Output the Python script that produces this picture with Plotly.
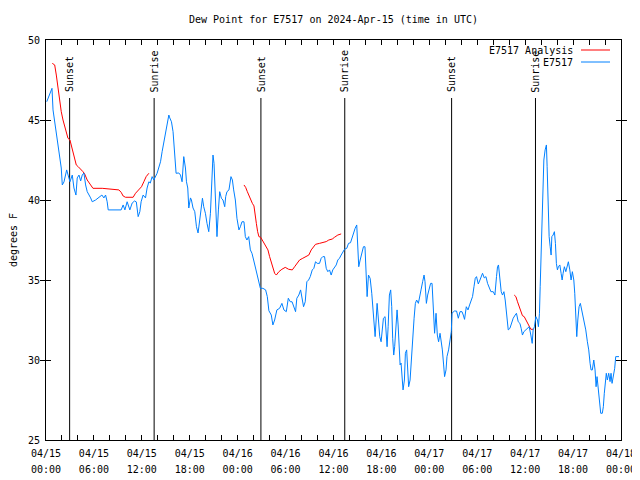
import pandas as pd
import plotly.graph_objects as go

BASE = pd.Timestamp("2024-04-15 00:00")

# E7517 observations: hours since 2024-04-15 00:00 UTC, dew point (F)
obs_hours = [0.09,0.75,0.88,1.13,1.41,1.71,1.91,2.04,2.25,2.59,2.75,3.0,3.29,3.5,3.75,3.91,4.13,4.34,4.54,4.75,
 4.96,5.16,5.59,5.79,6.21,6.63,7.0,7.25,7.46,7.66,7.79,9.41,9.66,9.88,10.16,10.5,10.79,11.09,11.31,11.54,
 11.75,11.91,12.16,12.46,12.66,12.88,13.06,13.29,13.5,13.91,14.13,14.34,14.54,14.75,14.96,15.16,15.38,15.5,15.71,15.91,
 16.13,16.29,16.63,16.84,17.04,17.25,17.46,17.59,17.75,17.88,18.09,18.21,18.41,18.63,18.84,19.04,19.25,19.46,19.59,19.75,
 19.96,20.16,20.38,20.59,20.79,20.91,21.04,21.21,21.41,21.59,21.75,21.96,22.16,22.38,22.5,22.66,22.91,23.16,23.34,23.5,
 23.71,23.91,24.16,24.34,24.54,24.79,24.96,25.16,25.38,25.59,25.79,26.0,26.21,26.41,26.63,26.84,27.16,27.5,27.71,27.91,
 28.21,28.41,28.63,28.91,29.25,29.54,29.79,30.09,30.34,30.59,30.81,31.04,31.25,31.41,31.66,31.88,32.04,32.25,32.46,32.66,
 32.88,33.09,33.34,33.54,33.75,33.96,34.25,34.46,34.66,34.88,35.09,35.29,35.5,35.71,35.91,36.13,36.34,36.54,36.75,36.96,
 37.16,37.38,37.66,37.88,38.13,38.34,38.5,38.71,38.91,39.04,39.16,39.34,39.54,39.75,39.94,40.09,40.21,40.38,40.59,40.79,
 40.91,41.09,41.21,41.34,41.46,41.63,41.79,41.96,42.09,42.25,42.46,42.59,42.71,42.84,43.0,43.16,43.29,43.41,43.54,43.66,
 43.84,43.96,44.09,44.21,44.34,44.46,44.59,44.71,44.88,45.0,45.16,45.29,45.41,45.59,45.75,45.91,46.09,46.25,46.41,46.63,
 46.79,46.96,47.16,47.34,47.46,47.63,47.79,48.0,48.16,48.34,48.5,48.66,48.84,49.0,49.16,49.34,49.46,49.63,49.79,49.91,
 50.09,50.21,50.41,50.59,50.75,50.84,51.13,51.41,51.63,51.84,52.09,52.25,52.41,52.63,52.84,53.04,53.21,53.41,53.59,53.75,
 53.91,54.13,54.34,54.66,54.88,55.09,55.29,55.5,55.71,56.0,56.21,56.41,56.54,56.66,56.84,57.0,57.16,57.34,57.5,57.66,
 57.88,58.09,58.29,58.5,58.75,58.91,59.13,59.34,59.5,59.66,59.84,60.09,60.29,60.5,60.71,60.88,61.0,61.16,61.34,61.54,
 61.66,61.79,61.88,62.0,62.09,62.21,62.34,62.5,62.66,62.75,62.88,63.0,63.13,63.25,63.34,63.5,63.66,63.79,63.91,64.04,
 64.16,64.34,64.5,64.63,64.75,64.91,65.09,65.25,65.41,65.59,65.75,65.91,66.09,66.21,66.34,66.46,66.59,66.75,66.91,67.09,
 67.25,67.41,67.59,67.79,67.96,68.13,68.25,68.41,68.59,68.75,68.88,69.0,69.13,69.25,69.38,69.46,69.66,69.79,69.91,70.04,
 70.16,70.29,70.46,70.63,70.75,70.88,71.04,71.21,71.34,71.75]
obs_dewpt = [46.14,46.98,45.63,44.69,43.64,42.81,42.0,40.94,41.13,41.88,41.56,41.14,41.56,40.75,40.31,41.38,41.56,41.19,41.56,41.69,
 40.94,40.52,40.13,39.89,40.0,40.19,40.31,40.13,40.31,39.89,39.38,39.38,39.69,39.38,39.89,39.38,39.81,39.94,39.88,38.96,
 39.27,39.89,40.31,40.13,40.75,41.14,41.06,41.46,41.25,41.67,41.98,42.39,43.02,43.64,44.27,44.69,45.31,45.13,44.89,44.27,
 42.81,41.67,41.69,41.56,41.14,42.71,42.0,41.14,40.75,39.5,40.13,40.0,39.5,39.27,38.33,37.94,38.75,39.58,40.11,39.58,
 39.17,38.54,38.02,39.17,42.08,42.81,42.29,40.21,37.71,39.38,40.52,40.11,40.0,39.58,40.21,40.52,40.63,41.46,41.25,40.63,
 40.0,38.86,38.13,38.33,38.64,38.64,37.71,37.5,37.71,36.88,36.67,36.25,35.83,35.31,34.89,34.48,34.48,34.38,33.96,33.08,
 32.81,32.19,32.5,33.13,33.23,33.54,33.13,33.02,33.86,33.64,33.64,33.33,33.02,33.86,34.06,34.38,33.96,33.33,33.64,34.89,
 35.0,35.21,35.63,35.73,36.14,36.04,36.04,36.36,36.46,36.46,35.73,35.52,35.63,35.31,35.63,35.83,35.94,36.25,36.36,36.56,
 36.77,36.92,36.98,37.29,37.33,37.71,38.02,38.23,38.44,37.19,35.83,36.25,36.77,37.08,37.08,35.21,33.96,35.31,35.1,34.17,
 33.33,32.08,31.46,32.5,33.54,32.5,31.46,31.14,31.88,32.61,32.71,31.36,30.83,32.08,34.06,34.38,33.33,31.36,30.31,30.83,
 32.5,33.13,32.19,30.42,29.69,29.81,28.86,28.13,28.75,30.42,30.63,29.69,28.33,28.75,30.21,31.25,32.61,33.54,33.75,33.54,
 33.86,34.38,34.89,35.31,34.89,33.54,34.06,34.58,34.79,34.79,33.33,31.67,32.92,31.56,31.14,31.67,31.25,30.63,29.69,28.96,
 29.38,30.21,30.63,31.14,31.77,32.92,33.06,33.06,32.61,33.02,33.02,32.81,32.54,33.33,33.13,33.44,33.75,33.96,34.58,35.11,
 35.21,34.75,35.0,35.42,35.13,35.21,34.79,34.48,34.27,34.27,34.06,35.21,35.83,35.94,34.79,34.27,34.06,34.27,33.75,33.02,
 31.88,31.98,32.29,32.61,32.81,32.92,32.39,32.29,31.98,31.56,31.77,31.88,31.98,32.08,31.56,31.04,31.88,32.08,32.71,32.5,
 32.08,32.92,34.58,36.46,38.44,40.21,42.5,43.13,43.44,42.08,39.38,37.71,37.08,36.56,37.71,37.81,38.02,37.29,36.04,35.63,
 35.83,35.94,35.42,35.0,35.42,35.83,35.52,35.94,36.14,35.63,35.0,35.52,35.0,34.17,33.13,31.46,32.5,33.33,33.54,33.13,
 32.71,32.19,31.88,31.14,30.63,29.79,29.38,29.38,30.0,29.38,28.33,28.96,28.33,27.92,27.29,26.67,26.67,27.08,27.92,28.65,
 29.17,28.75,29.17,28.65,29.17,28.54,28.96,29.48,30.21,30.21]

# E7517 Analysis (three segments, None separates them)
ana_hours = [0.79,1.09,1.29,1.5,1.71,1.91,2.13,2.34,2.54,2.75,3.0,3.21,3.41,3.63,3.79,4.04,4.34,4.63,4.84,5.16,
 5.59,5.88,7.04,8.38,9.13,9.41,9.66,9.96,10.91,11.21,11.63,11.96,12.25,12.54,12.88, None,
 24.79,25.0,25.21,25.41,25.63,25.84,26.04,26.16,26.34,26.5,26.66,26.88,27.09,27.25,27.5,27.79,28.0,28.21,28.41,28.63,
 28.84,29.16,29.54,29.96,30.38,30.84,31.13,31.41,31.75,32.16,32.59,32.91,33.21,33.5,33.75,34.25,34.66,35.09,35.41,35.84,
 36.13,36.54,36.96, None,
 58.63,58.84,59.04,59.25,59.46,59.66,59.88,60.09,60.29,60.5,60.71,61.0]
ana_dewpt = [48.54,48.44,47.81,46.98,46.14,45.52,45.0,44.58,44.17,43.86,43.75,43.33,42.81,42.39,42.19,42.08,41.94,41.77,41.63,41.25,
 40.94,40.73,40.73,40.67,40.63,40.48,40.25,40.17,40.17,40.42,40.63,40.83,41.14,41.46,41.67, None,
 40.94,40.79,40.52,40.27,40.0,39.79,39.63,39.06,38.54,38.02,37.71,37.67,37.5,37.29,37.08,36.88,36.46,36.15,35.73,35.42,
 35.31,35.52,35.67,35.79,35.67,35.63,35.83,36.04,36.25,36.36,36.46,36.56,36.88,37.08,37.23,37.29,37.33,37.4,37.5,37.56,
 37.67,37.81,37.88, None,
 34.06,33.96,33.64,33.33,33.02,32.77,32.71,32.5,32.29,32.04,31.92,31.92]

sun_hours = [2.96, 13.54, 26.91, 37.41, 50.79, 61.29]
sun_labels = ["Sunset", "Sunrise", "Sunset", "Sunrise", "Sunset", "Sunrise"]
sun_line_top = 46.375
sun_label_base = 46.6

tick_hours = list(range(0, 73, 6))
minor_tick_hours = list(range(0, 73, 2))

def to_time(hs):
    return [None if h is None else BASE + pd.Timedelta(hours=h) for h in hs]

FONT = "DejaVu Sans Mono"
RED = "#ff0000"
BLUE = "#0080ff"

# page offset: the browser body keeps an 8px margin at the top and left
W, H = 640, 480
OFF = 8
L, T = 46 - OFF, 40 - OFF
R, B = W - (621 - OFF), H - (440 - OFF)

fig = go.Figure()

# sun lines
sx, sy = [], []
for h in sun_hours:
    t = BASE + pd.Timedelta(hours=h)
    sx += [t, t, None]
    sy += [sun_line_top, 25, None]
fig.add_trace(go.Scatter(x=sx, y=sy, mode="lines", line=dict(color="black", width=1),
                         showlegend=False, hoverinfo="skip"))

fig.add_trace(go.Scatter(x=to_time(ana_hours), y=ana_dewpt, mode="lines", name="E7517 Analysis",
                         line=dict(color=RED, width=1), connectgaps=False, showlegend=False))
fig.add_trace(go.Scatter(x=to_time(obs_hours), y=obs_dewpt, mode="lines", name="E7517",
                         line=dict(color=BLUE, width=1), showlegend=False))

# helper trace for second row of time labels
fig.add_trace(go.Scatter(x=to_time([0, 72]), y=[None, None], xaxis="x2", mode="lines",
                         showlegend=False, hoverinfo="skip"))

for h, lab in zip(sun_hours, sun_labels):
    fig.add_annotation(x=BASE + pd.Timedelta(hours=h), y=sun_label_base, text=lab, textangle=-90,
                       showarrow=False, xanchor="center", yanchor="bottom",
                       font=dict(family=FONT, size=10, color="black"))

# legend drawn gnuplot style: right-aligned text, sample line on the right
plot_w, plot_h = 621 - 46, 400
leg = [("E7517 Analysis", RED, 50), ("E7517", BLUE, 62)]
for name, col, ypx in leg:
    yy = (440 - ypx) / plot_h
    fig.add_annotation(xref="paper", yref="paper", x=(575 - 46) / plot_w, y=yy,
                       text=name, showarrow=False, xanchor="right", yanchor="middle",
                       font=dict(family=FONT, size=10, color="black"))
    fig.add_shape(type="line", xref="paper", yref="paper",
                  x0=(581 - 46) / plot_w, x1=(610 - 46) / plot_w,
                  y0=yy, y1=yy, line=dict(color=col, width=1))

tick_vals = to_time(tick_hours)
date_text = [t.strftime("%m/%d") for t in tick_vals]
time_text = [t.strftime("%H:%M") for t in tick_vals]

fig.update_layout(
    width=W, height=H,
    margin=dict(l=L, r=R, t=T, b=B, autoexpand=False),
    paper_bgcolor="white", plot_bgcolor="white",
    font=dict(family=FONT, size=10, color="black"),
    title=dict(text="Dew Point for E7517 on 2024-Apr-15 (time in UTC)", x=0.5, xref="paper",
               y=1 - (19 - OFF) / H, yref="container", xanchor="center", yanchor="middle",
               font=dict(family=FONT, size=10, color="black")),
    showlegend=False,
)
rng = [BASE, BASE + pd.Timedelta(hours=72)]
fig.update_layout(
    xaxis=dict(
        type="date", range=rng, automargin=False,
        tickvals=tick_vals, ticktext=date_text, ticklabelstandoff=4,
        showgrid=False, zeroline=False, showline=True, linecolor="black", linewidth=1,
        mirror="allticks", ticks="inside", ticklen=5, tickcolor="black",
        minor=dict(tickvals=to_time(minor_tick_hours), ticks="inside", ticklen=5,
                   tickcolor="black", showgrid=False),
        tickfont=dict(family=FONT, size=10),
    ),
    xaxis2=dict(
        type="date", range=rng, automargin=False, overlaying="x", side="bottom", anchor="y",
        tickvals=tick_vals, ticktext=time_text, ticklabelstandoff=22,
        showgrid=False, zeroline=False, showline=False, ticks="",
        tickfont=dict(family=FONT, size=10),
    ),
    yaxis=dict(
        range=[25, 50], tickvals=[25, 30, 35, 40, 45, 50], automargin=False,
        title=dict(text="degrees F", font=dict(family=FONT, size=10), standoff=8),
        showgrid=False, zeroline=False, showline=True, linecolor="black", linewidth=1,
        mirror="allticks", ticks="inside", ticklen=5, tickcolor="black", ticklabelstandoff=3,
        tickfont=dict(family=FONT, size=10),
    ),
)

fig.write_html("out.html")
